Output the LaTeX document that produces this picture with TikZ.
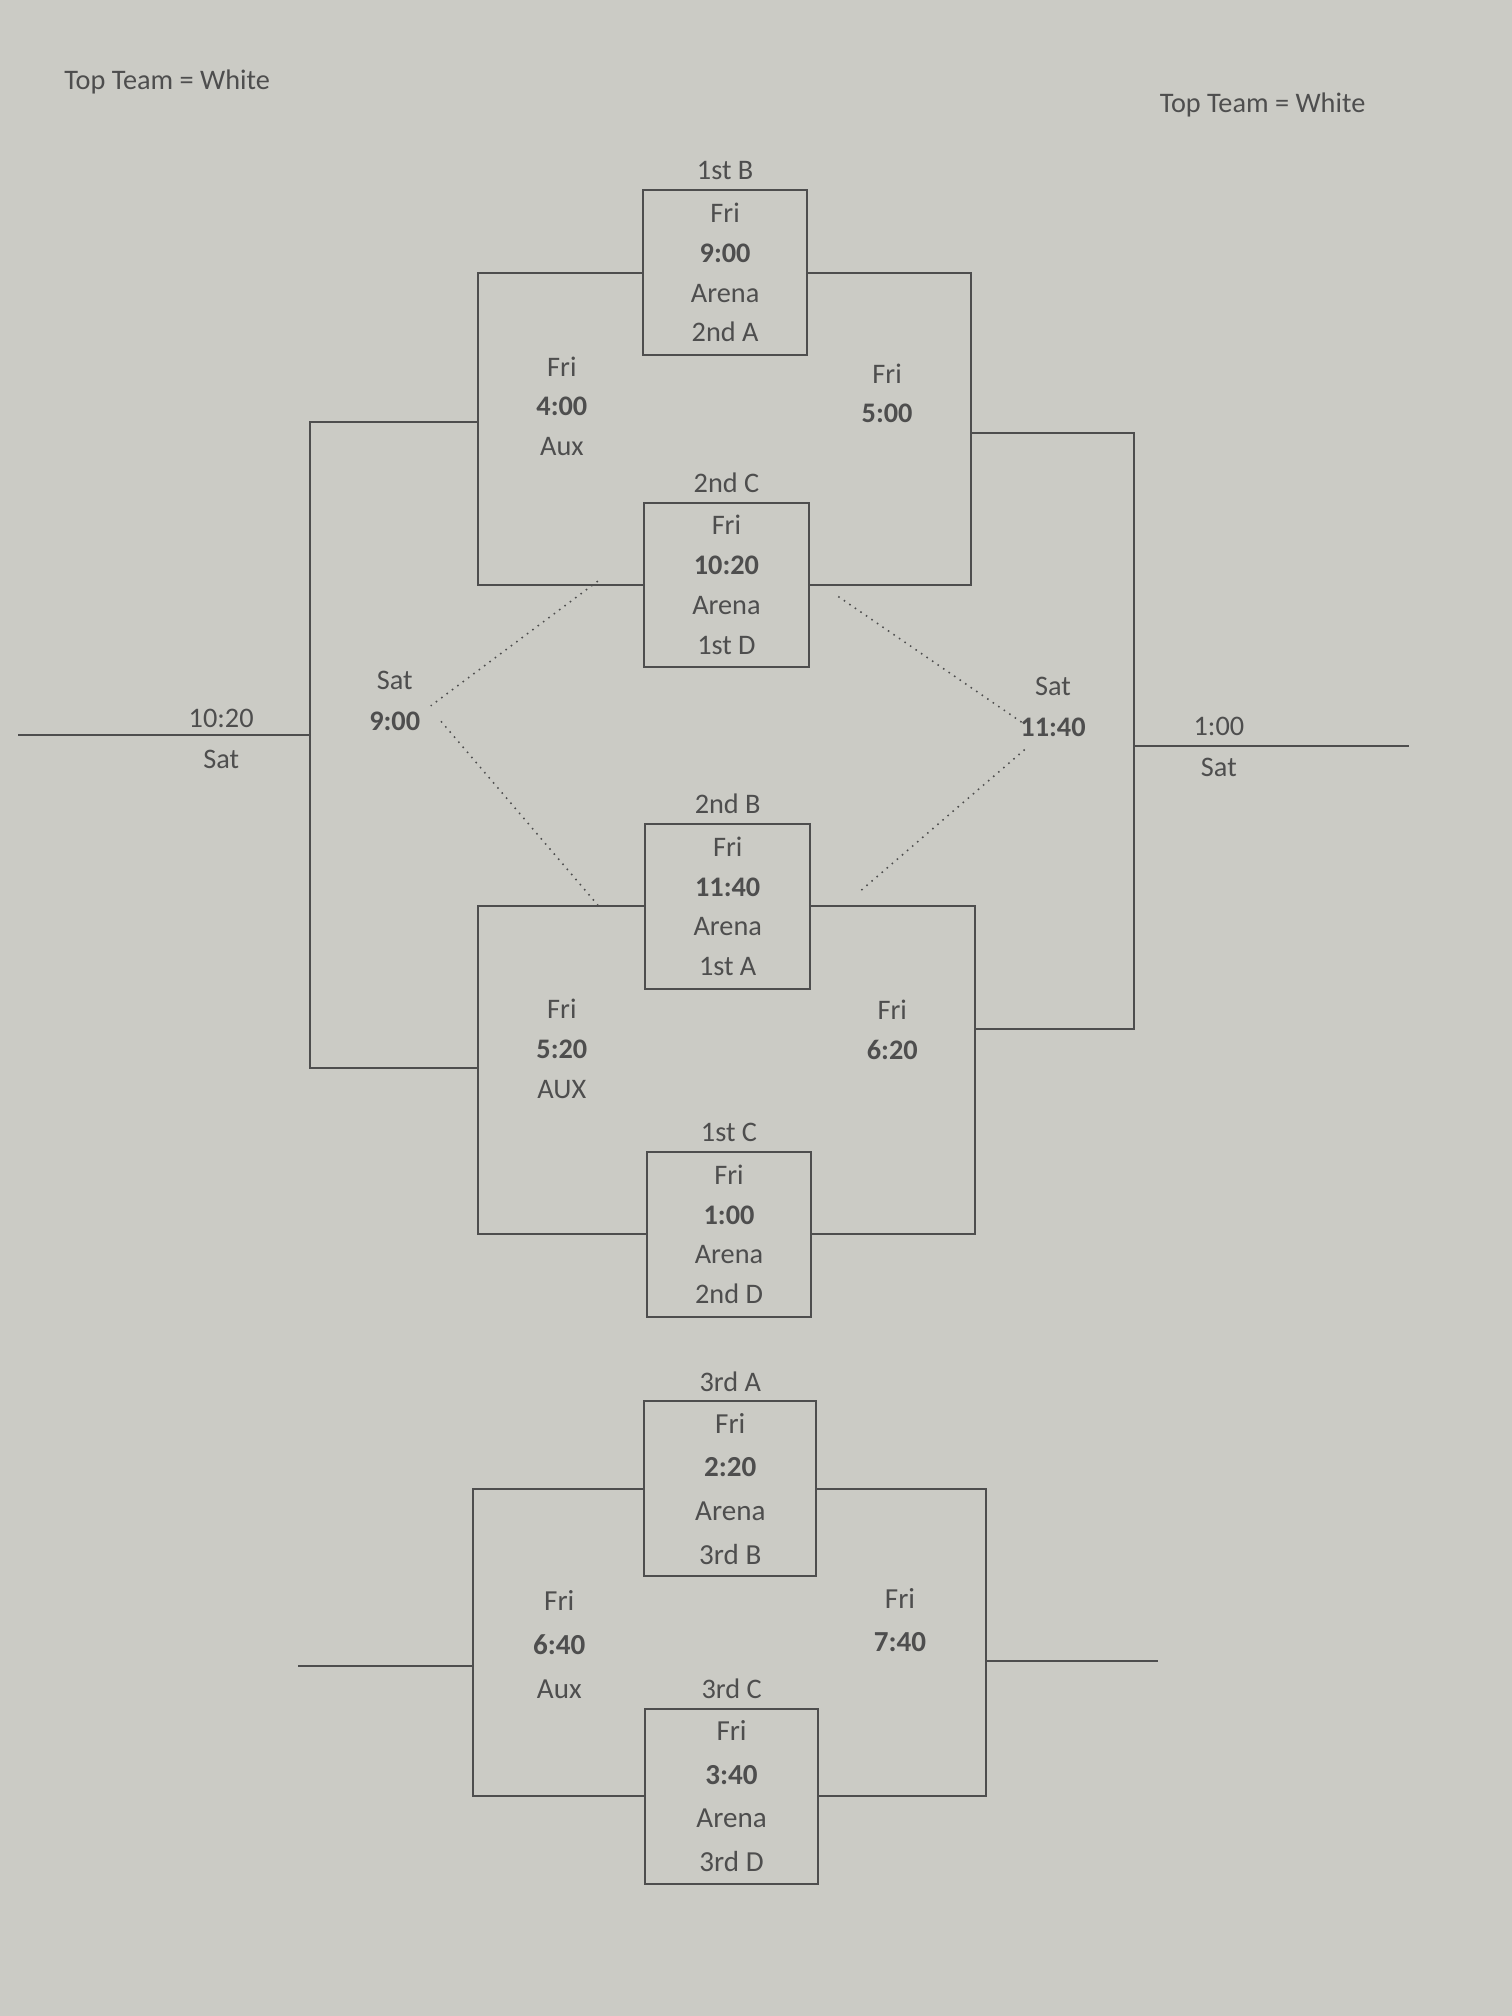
\documentclass[tikz,border=0pt]{standalone}
\usepackage{fontspec}
\setmainfont{Carlito}
\definecolor{paper}{RGB}{203,203,197}
\definecolor{ink}{RGB}{78,78,78}
\begin{document}
\begin{tikzpicture}[x=0.5pt,y=-0.5pt,
    font=\fontsize{11}{15.5}\selectfont, text=ink,
    game/.style={draw=ink, line width=0.8pt, minimum width=64pt, minimum height=64pt, inner sep=0pt, align=center},
    biggame/.style={game, minimum width=67pt, minimum height=68pt, font=\fontsize{11.3}{17}\selectfont},
    slot/.style={align=center},
    wire/.style={draw=ink, line width=0.8pt},
    hint/.style={draw=ink, dotted, line width=0.6pt}]
  \fill[paper, use as bounding box] (0,0) rectangle (1176,1568);
  % Header notes
  \node (noteL) at (130,64) {Top Team = White};
  \node (noteR) at (982,82) {Top Team = White};
  % Arena games
  \node[game, label=above:1st B] (b1) at (564,212) {Fri\\\textbf{9:00}\\Arena\\2nd A};
  \node[game, label=above:2nd C] (b2) at (565,455) {Fri\\\textbf{10:20}\\Arena\\1st D};
  \node[game, label=above:2nd B] (b3) at (566,705) {Fri\\\textbf{11:40}\\Arena\\1st A};
  \node[game, label=above:1st C] (b4) at (567,960) {Fri\\\textbf{1:00}\\Arena\\2nd D};
  \node[biggame, label=above:3rd A] (b5) at (568,1158) {Fri\\\textbf{2:20}\\Arena\\3rd B};
  \node[biggame, label=above:3rd C] (b6) at (569,1397) {Fri\\\textbf{3:40}\\Arena\\3rd D};
  % Second round times
  \node[slot] (g1) at (437,316) {Fri\\\textbf{4:00}\\Aux};
  \node[slot] (g2) at (690,306) {Fri\\\textbf{5:00}};
  \node[slot] (g3) at (437,816) {Fri\\\textbf{5:20}\\AUX};
  \node[slot] (g4) at (694,801) {Fri\\\textbf{6:20}};
  \node[slot, font=\fontsize{11.3}{17}\selectfont] (g5) at (435,1279) {Fri\\\textbf{6:40}\\Aux};
  \node[slot, font=\fontsize{11.3}{17}\selectfont] (g6) at (700,1260) {Fri\\\textbf{7:40}};
  % Saturday
  \node[slot, font=\fontsize{11}{16}\selectfont] (s1) at (307,545) {Sat\\\textbf{9:00}};
  \node[slot, font=\fontsize{11}{16}\selectfont] (s2) at (819,550) {Sat\\\textbf{11:40}};
  \node (t1) at (172,559) {10:20};
  \node (t2) at (172,591) {Sat};
  \node (t3) at (948,565) {1:00};
  \node (t4) at (948,597) {Sat};
  % Bracket corners
  \coordinate (q1) at (372,328);
  \coordinate (q2) at (755,337);
  \coordinate (q3) at (372,831);
  \coordinate (q4) at (758,800);
  \coordinate (sL) at (241,572);
  \coordinate (sR) at (882,580);
  \coordinate (eL) at (14,572);
  \coordinate (eR) at (1096,580);
  \coordinate (r1) at (368,1296);
  \coordinate (r2) at (767,1292);
  \coordinate (fL) at (232,1296);
  \coordinate (fR) at (901,1292);
  % Brackets
  \draw[wire] (b1.west) -| (q1) |- (b2.west);
  \draw[wire] (b1.east) -| (q2) |- (b2.east);
  \draw[wire] (b3.west) -| (q3) |- (b4.west);
  \draw[wire] (b3.east) -| (q4) |- (b4.east);
  \draw[wire] (q1) -| (sL) |- (q3);
  \draw[wire] (q2) -| (sR) |- (q4);
  \draw[wire] (sL) -- (eL);
  \draw[wire] (sR) -- (eR);
  \draw[wire] (b5.west) -| (r1) |- (b6.west);
  \draw[wire] (b5.east) -| (r2) |- (b6.east);
  \draw[wire] (r1) -- (fL);
  \draw[wire] (r2) -- (fR);
  % Dotted hints
  \coordinate (d1) at (465,452);
  \coordinate (d2) at (335,549);
  \coordinate (d3) at (343,561);
  \coordinate (d4) at (465,704);
  \coordinate (d5) at (652,464);
  \coordinate (d6) at (795,562);
  \coordinate (d7) at (797,583);
  \coordinate (d8) at (668,694);
  \draw[hint] (d1) -- (d2);
  \draw[hint] (d3) -- (d4);
  \draw[hint] (d5) -- (d6);
  \draw[hint] (d7) -- (d8);
\end{tikzpicture}
\end{document}
